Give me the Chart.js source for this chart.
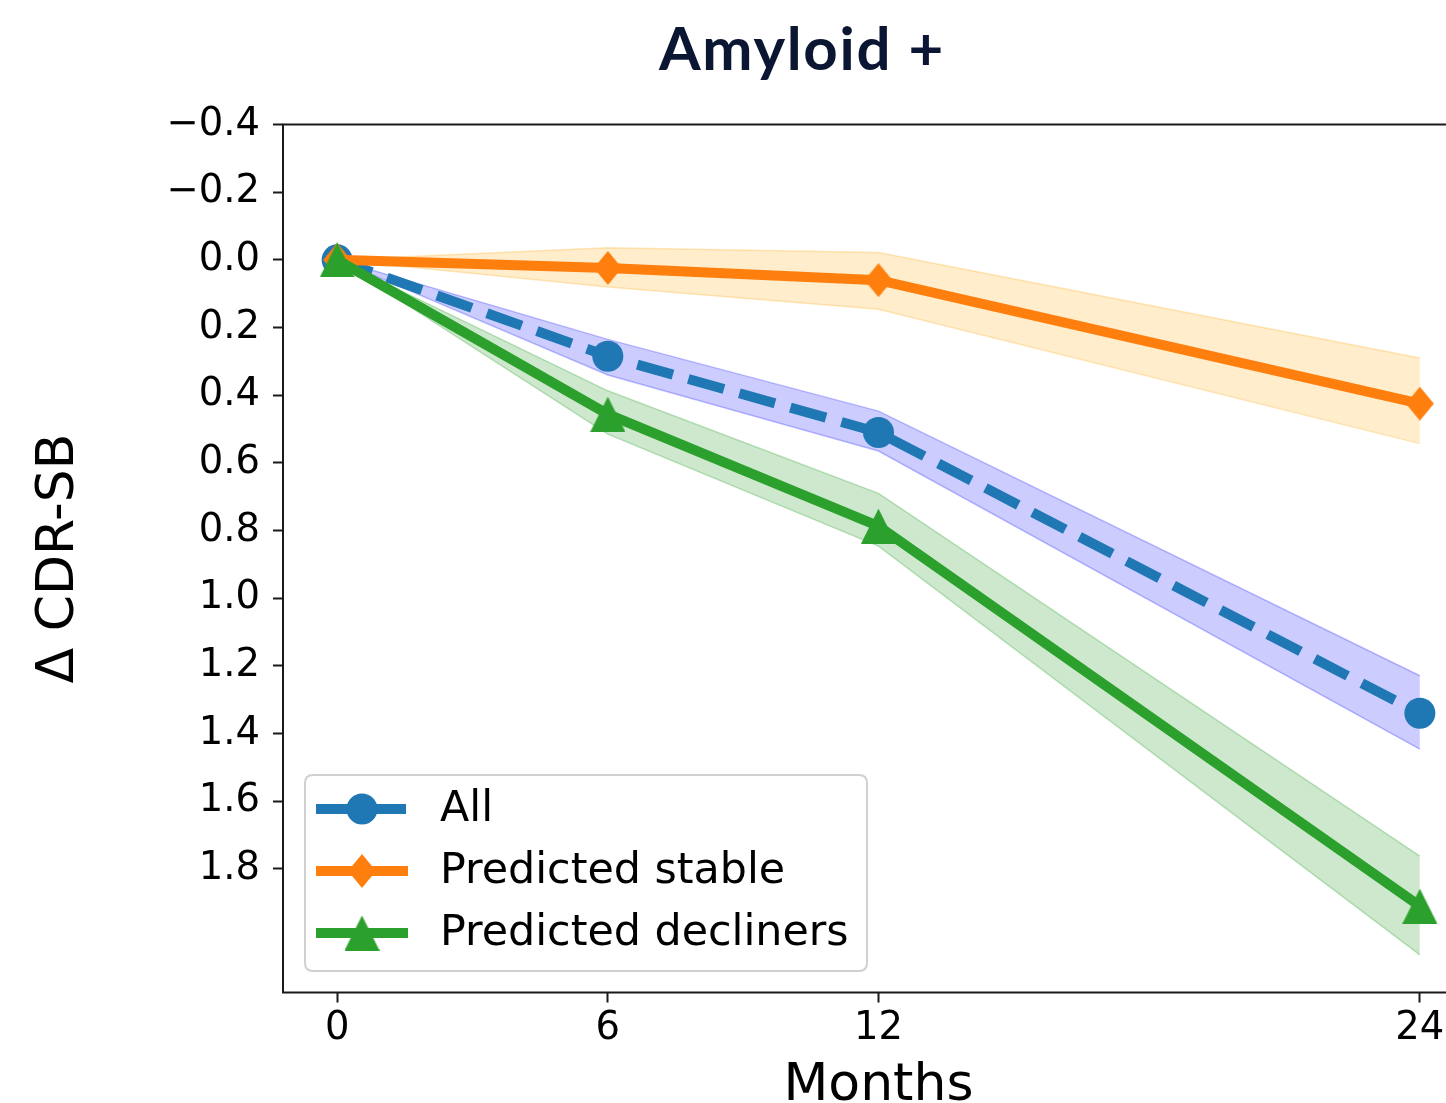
<!DOCTYPE html>
<html>
<head>
<meta charset="utf-8">
<script src="https://cdn.jsdelivr.net/npm/chart.js@4.4.1/dist/chart.umd.min.js"></script>
<style>
html,body{margin:0;padding:0;overflow:hidden;background:#fff;width:1446px;height:1103px}
#wrap{position:absolute;left:0;top:0;width:1491px;height:1103px}
</style>
</head>
<body>
<div id="wrap"><canvas id="c" width="1491" height="1103"></canvas></div>
<script>
// ---- data ----
const titleText = 'Amyloid +';
const xLabel = 'Months';
const yLabel = '\u0394 CDR-SB';
const months = [0, 6, 12, 24];
const xTicks = [0, 6, 12, 24];
const yTicks = [-0.4, -0.2, 0.0, 0.2, 0.4, 0.6, 0.8, 1.0, 1.2, 1.4, 1.6, 1.8];
const seriesNames = ['All', 'Predicted stable', 'Predicted decliners'];

const allMean = [0, 0.285, 0.51, 1.34];
const allLow  = [0, 0.235, 0.447, 1.229];
const allHigh = [0, 0.34, 0.565, 1.446];

const stableMean = [0, 0.024, 0.06, 0.425];
const stableLow  = [0, -0.036, -0.022, 0.29];
const stableHigh = [0, 0.08, 0.146, 0.543];

const declMean = [0, 0.456, 0.787, 1.91];
const declLow  = [0, 0.387, 0.69, 1.762];
const declHigh = [0, 0.515, 0.846, 2.054];

// ---- styles ----
const C_BLUE = '#1f77b4', C_ORANGE = '#ff7f0e', C_GREEN = '#2ca02c';
const pts = arr => months.map((m, i) => ({x: m, y: arr[i]}));

function makeDiamond(w, h, color) {
  const c = document.createElement('canvas'); c.width = w; c.height = h;
  const g = c.getContext('2d'); g.fillStyle = color;
  g.beginPath(); g.moveTo(w/2, 0); g.lineTo(w, h/2); g.lineTo(w/2, h); g.lineTo(0, h/2); g.closePath(); g.fill();
  return c;
}
function makeTriangle(w, h, color) {
  const c = document.createElement('canvas'); c.width = w; c.height = h;
  const g = c.getContext('2d'); g.fillStyle = color;
  g.beginPath(); g.moveTo(w/2, 0); g.lineTo(w, h); g.lineTo(0, h); g.closePath(); g.fill();
  return c;
}
const diamondImg = makeDiamond(28, 34, C_ORANGE);
const triImg = makeTriangle(35, 35, C_GREEN);

const LW = 10;
const DASH = [37, 16];

function band(data, fill, color, edge) {
  return {data: pts(data), fill: fill, backgroundColor: color, borderColor: edge, borderWidth: 1.5,
          pointRadius: 0, pointHoverRadius: 0, tension: 0, order: 5};
}

const datasets = [
  {label: seriesNames[0], data: pts(allMean), borderColor: C_BLUE, borderWidth: LW, borderDash: DASH,
   pointStyle: 'circle', pointRadius: 15.5, pointBackgroundColor: C_BLUE, pointBorderWidth: 0,
   fill: false, tension: 0, order: 2},
  {label: seriesNames[1], data: pts(stableMean), borderColor: C_ORANGE, borderWidth: LW,
   pointStyle: diamondImg, pointRadius: 17, pointBackgroundColor: C_ORANGE, pointBorderWidth: 0,
   fill: false, tension: 0, order: 1},
  {label: seriesNames[2], data: pts(declMean), borderColor: C_GREEN, borderWidth: LW,
   pointStyle: triImg, pointRadius: 17, pointBackgroundColor: C_GREEN, pointBorderWidth: 0,
   fill: false, tension: 0, order: 0},
  band(allLow, '+1', 'rgba(0,0,255,0.2)', 'rgba(0,0,255,0.25)'),
  band(allHigh, false, 'rgba(0,0,255,0.2)', 'rgba(0,0,255,0.25)'),
  band(stableLow, '+1', 'rgba(255,165,0,0.2)', 'rgba(255,165,0,0.25)'),
  band(stableHigh, false, 'rgba(255,165,0,0.2)', 'rgba(255,165,0,0.25)'),
  band(declLow, '+1', 'rgba(44,160,44,0.24)', 'rgba(44,160,44,0.28)'),
  band(declHigh, false, 'rgba(44,160,44,0.24)', 'rgba(44,160,44,0.28)')
];

const FONT = "'DejaVu Sans', sans-serif";

const framePlugin = {
  id: 'frame',
  afterDatasetsDraw(chart) {
    const {ctx, chartArea: a} = chart;
    ctx.save();
    ctx.strokeStyle = '#1a1a1a'; ctx.lineWidth = 2;
    ctx.strokeRect(a.left, a.top, a.right - a.left, a.bottom - a.top);
    ctx.restore();
  }
};

const titlePlugin = {
  id: 'customTitle',
  afterDraw(chart) {
    const ctx = chart.ctx;
    ctx.save();
    ctx.font = "bold 60px Lato, 'Open Sans', sans-serif";
    try { ctx.letterSpacing = '1.7px'; } catch (e) {}
    ctx.fillStyle = '#0b1633';
    ctx.textAlign = 'center'; ctx.textBaseline = 'alphabetic';
    ctx.fillText(titleText, 802, 70);
    ctx.restore();
  }
};

const legendPlugin = {
  id: 'customLegend',
  afterDraw(chart) {
    const ctx = chart.ctx;
    const bx = 305, by = 775, bw = 562, bh = 196, r = 8;
    ctx.save();
    ctx.beginPath();
    ctx.moveTo(bx + r, by); ctx.lineTo(bx + bw - r, by); ctx.quadraticCurveTo(bx + bw, by, bx + bw, by + r);
    ctx.lineTo(bx + bw, by + bh - r); ctx.quadraticCurveTo(bx + bw, by + bh, bx + bw - r, by + bh);
    ctx.lineTo(bx + r, by + bh); ctx.quadraticCurveTo(bx, by + bh, bx, by + bh - r);
    ctx.lineTo(bx, by + r); ctx.quadraticCurveTo(bx, by, bx + r, by); ctx.closePath();
    ctx.fillStyle = 'rgba(255,255,255,0.8)'; ctx.fill();
    ctx.strokeStyle = '#d0d0d0'; ctx.lineWidth = 2; ctx.stroke();
    const rows = [809, 871, 933];
    for (let i = 0; i < 3; i++) {
      const ds = chart.data.datasets[i];
      const y = rows[i];
      ctx.save();
      ctx.strokeStyle = ds.borderColor; ctx.lineWidth = LW; ctx.lineCap = 'butt';
      if (ds.borderDash) ctx.setLineDash(ds.borderDash);
      ctx.beginPath(); ctx.moveTo(316, y); ctx.lineTo(408, y); ctx.stroke();
      ctx.restore();
      if (ds.pointStyle === 'circle') {
        ctx.fillStyle = ds.borderColor; ctx.beginPath(); ctx.arc(362, y, 15.5, 0, Math.PI * 2); ctx.fill();
      } else {
        const img = ds.pointStyle;
        ctx.drawImage(img, 362 - img.width / 2, y - img.height / 2);
      }
      ctx.fillStyle = '#000'; ctx.font = "42.8px " + FONT;
      ctx.textAlign = 'left'; ctx.textBaseline = 'middle';
      ctx.fillText(ds.label, 440, y + 1);
    }
    ctx.restore();
  }
};

new Chart(document.getElementById('c'), {
  type: 'line',
  data: {datasets},
  options: {
    responsive: false,
    animation: false,
    events: [],
    layout: {padding: {top: 124.5, right: 7, bottom: 0, left: 0}},
    plugins: {legend: {display: false}, tooltip: {enabled: false}, title: {display: false}},
    scales: {
      x: {
        type: 'linear', min: -1.2, max: 25.2,
        afterBuildTicks: s => { s.ticks = xTicks.map(v => ({value: v})); },
        afterFit: s => { s.height = 110.5; },
        ticks: {font: {family: FONT, size: 38.5}, color: '#000', padding: 3, maxRotation: 0, autoSkip: false,
                callback: v => String(v)},
        grid: {drawOnChartArea: false, drawTicks: true, tickLength: 10, tickColor: '#1a1a1a', tickWidth: 2},
        border: {display: false},
        title: {display: true, text: xLabel, color: '#000', font: {family: FONT, size: 52, lineHeight: 0.65}, padding: {top: 0, bottom: 0}}
      },
      y: {
        type: 'linear', reverse: true, min: -0.4, max: 2.165,
        afterBuildTicks: s => { s.ticks = yTicks.map(v => ({value: v})); },
        afterFit: s => { s.width = 283; },
        ticks: {font: {family: FONT, size: 38.5}, color: '#000', padding: 13, autoSkip: false,
                callback: v => (v < -1e-9 ? '\u2212' : '') + Math.abs(v).toFixed(1)},
        grid: {drawOnChartArea: false, drawTicks: true, tickLength: 10, tickColor: '#1a1a1a', tickWidth: 2},
        border: {display: false},
        title: {display: true, text: yLabel, color: '#000', font: {family: FONT, size: 52, lineHeight: 1}, padding: {top: 33, bottom: 0}}
      }
    }
  },
  plugins: [framePlugin, titlePlugin, legendPlugin]
});
</script>
</body>
</html>
